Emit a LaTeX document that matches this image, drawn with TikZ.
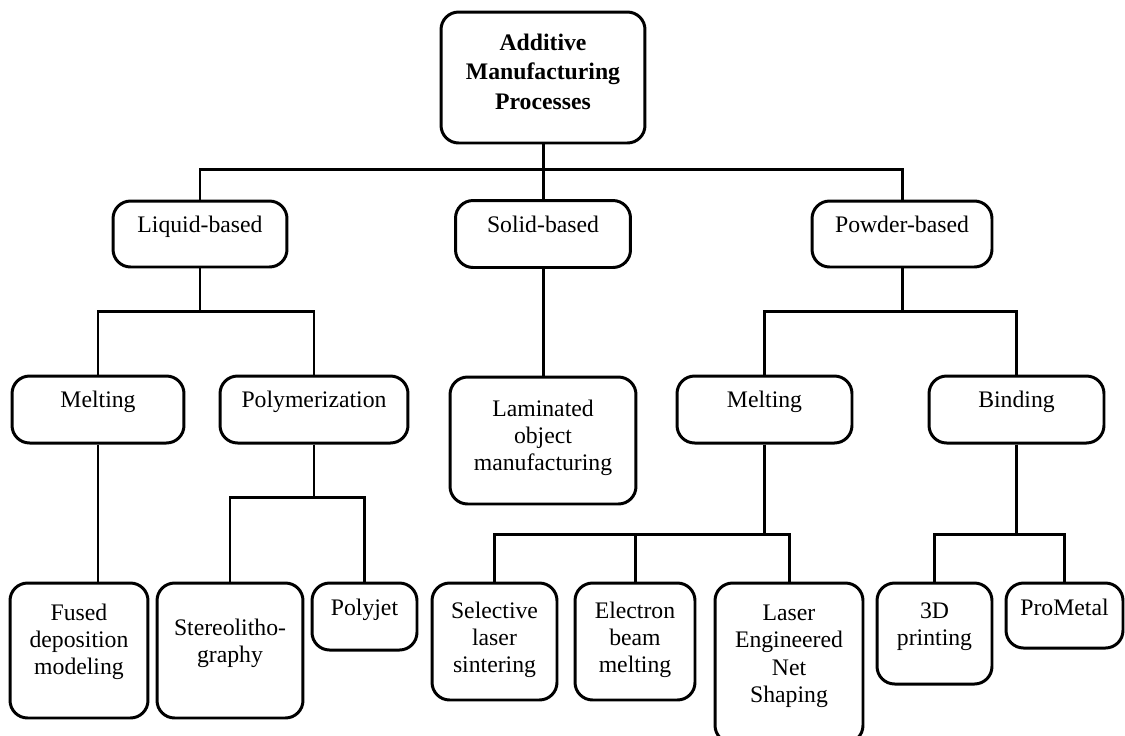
\documentclass[tikz,border=0pt]{standalone}
\usepackage{fontspec}
\setmainfont{Liberation Serif}
\usepackage{tikz}
\usetikzlibrary{positioning,calc}
\tikzset{
  blk/.style  ={rectangle,draw,line width=1.7pt,rounded corners=10pt,
                 align=center,inner sep=2pt,text height=0.32cm,
                 font=\fontsize{13.5}{15.6}\selectfont},
  wd/.style   ={minimum width=#1,text width=#1-0.3cm},
  ht/.style   ={minimum height=#1},
  dp/.style   ={text depth=#1},
  link/.style ={line width=1.7pt},
}

\begin{document}
\begin{tikzpicture}[x=0.02cm,y=-0.02cm]
  \useasboundingbox (0,0) rectangle (1125,735);
  % root
  \node[blk,wd=4.08cm,ht=2.62cm,dp=1.42cm,
        font=\fontsize{13.5}{17}\selectfont\bfseries]
                                   (am)   at (543,77.5)
        {Additive\\Manufacturing\\Processes};
  % families
  \node[blk,wd=3.48cm,ht=1.32cm,dp=0.40cm] (liq)  at (200,234)  {Liquid-based};
  \node[blk,wd=3.50cm,ht=1.34cm,dp=0.40cm] (sol)  at (543,234)  {Solid-based};
  \node[blk,wd=3.60cm,ht=1.32cm,dp=0.40cm] (pow)  at (902,234)  {Powder-based};
  % mechanisms
  \node[blk,wd=3.44cm,ht=1.34cm,dp=0.40cm] (melA) at (98,409.5) {Melting};
  \node[blk,wd=3.76cm,ht=1.34cm,dp=0.40cm] (poly) at (314,409.5) {Polymerization};
  \node[blk,wd=3.72cm,ht=2.54cm,dp=1.30cm] (lom)  at (543,440.5)
        {Laminated\\object\\manufacturing};
  \node[blk,wd=3.50cm,ht=1.34cm,dp=0.40cm] (melB) at (764.5,409.5) {Melting};
  \node[blk,wd=3.50cm,ht=1.34cm,dp=0.40cm] (bind) at (1016.5,409.5) {Binding};
  % processes
  \node[blk,wd=2.76cm,ht=2.70cm,dp=1.54cm] (fdm)  at (79,650.5)
        {Fused\\deposition\\modeling};
  \node[blk,wd=2.92cm,ht=2.70cm,dp=0.94cm] (sla)  at (230,650.5)
        {Stereolitho-\\graphy};
  \node[blk,wd=2.10cm,ht=1.34cm,dp=0.38cm] (pj)   at (364.5,616.5) {Polyjet};
  \node[blk,wd=2.50cm,ht=2.34cm,dp=1.26cm] (sls)  at (494.5,641.5)
        {Selective\\laser\\sintering};
  \node[blk,wd=2.40cm,ht=2.34cm,dp=1.26cm] (ebm)  at (635,641.5)
        {Electron\\beam\\melting};
  \node[blk,wd=2.96cm,ht=3.20cm,dp=2.02cm] (lens) at (789,663)
        {Laser\\Engineered\\Net\\Shaping};
  \node[blk,wd=2.30cm,ht=2.02cm,dp=0.94cm] (tdp)  at (934.5,633.5)
        {3D\\printing};
  \node[blk,wd=2.34cm,ht=1.30cm,dp=0.34cm] (pm)   at (1064.5,615.5) {ProMetal};
  % root -> families
  \draw[link] (am.south) -- ++(0,25) -| (liq.north);
  \draw[link] (am.south) -- ++(0,25) -| (pow.north);
  \draw[link] (am.south) -- (sol.north);
  % liquid-based branch
  \draw[link] (liq.south) -- ++(0,43) -| (melA.north);
  \draw[link] (liq.south) -- ++(0,43) -| (poly.north);
  \draw[link] (melA.south) -- (melA.south |- fdm.north);
  \draw[link] (poly.south) -- ++(0,53) -| (sla.north);
  \draw[link] (poly.south) -- ++(0,53) -| (pj.north);
  % solid-based branch
  \draw[link] (sol.south) -- (lom.north);
  % powder-based branch
  \draw[link] (pow.south) -- ++(0,43) -| (melB.north);
  \draw[link] (pow.south) -- ++(0,43) -| (bind.north);
  \draw[link] (melB.south) -- ++(0,90) -| (sls.north);
  \draw[link] (melB.south) -- ++(0,90) -| (ebm.north);
  \draw[link] (melB.south) -- ++(0,90) -| (lens.north);
  \draw[link] (bind.south) -- ++(0,90) -| (tdp.north);
  \draw[link] (bind.south) -- ++(0,90) -| (pm.north);
\end{tikzpicture}
\end{document}
